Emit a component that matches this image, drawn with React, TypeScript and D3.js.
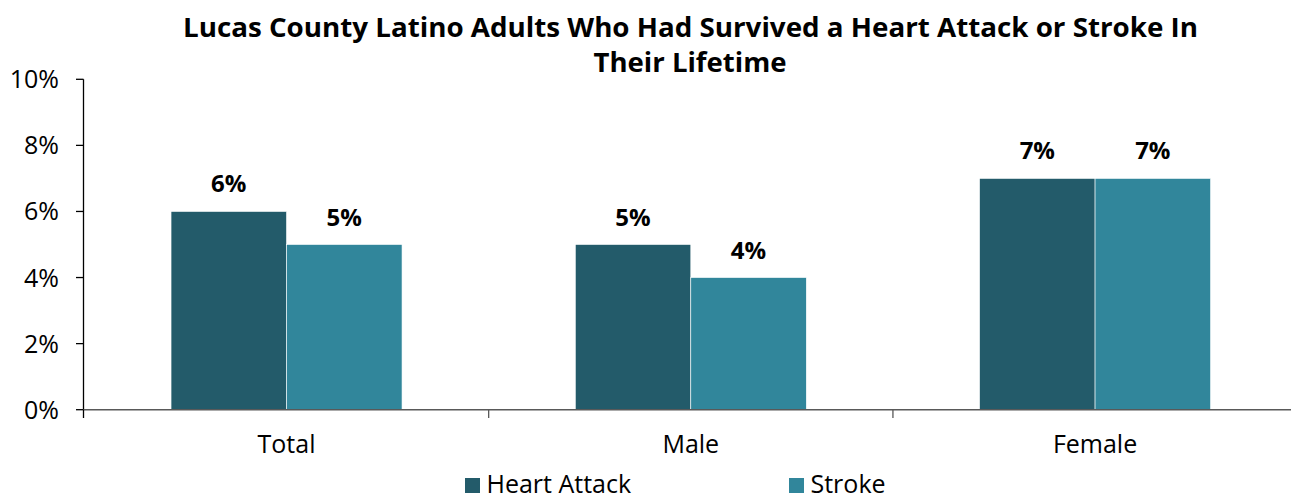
import React from "react";
import * as d3 from "d3";

const categories = ["Total", "Male", "Female"];
const seriesNames = ["Heart Attack", "Stroke"];
const heartAttack = [6, 5, 7];
const stroke = [5, 4, 7];
const yTicks = [0, 2, 4, 6, 8, 10];
const colors = ["#235B6A", "#31869B"];
const titleLines = [
  "Lucas County Latino Adults Who Had Survived a Heart Attack or Stroke In",
  "Their Lifetime",
];

const W = 1291;
const H = 495;
const FONT = "'Open Sans', 'Noto Sans', sans-serif";

export default function App() {
  const values = [heartAttack, stroke];
  const x = d3.scaleBand<string>().domain(categories).range([84.4, 1297.2]).paddingInner(0).paddingOuter(0);
  const groupW = 231;
  const xs = d3.scaleBand<string>().domain(seriesNames).range([0, groupW]);
  const y = d3.scaleLinear().domain([0, 10]).range([409.7, 79.3]);
  const axisX = 83.5;
  const y0 = y(0);
  const boundaries = [0, 1, 2, 3].map((i) => 84.4 + i * x.bandwidth());

  return (
    <svg width={W} height={H} style={{ position: "absolute", left: 0, top: 0, background: "#fff" }}>
      {/* title */}
      <text x={690.5} y={36.7} textAnchor="middle" fontFamily={FONT} fontWeight={700} fontSize={26} fill="#000"
        textLength={1015} lengthAdjust="spacingAndGlyphs">{titleLines[0]}</text>
      <text x={690} y={71.7} textAnchor="middle" fontFamily={FONT} fontWeight={700} fontSize={26} fill="#000"
        textLength={193} lengthAdjust="spacingAndGlyphs">{titleLines[1]}</text>

      {/* bars */}
      {categories.map((c, ci) =>
        seriesNames.map((s, si) => {
          const v = values[si][ci];
          const bx = (x(c) as number) + (x.bandwidth() - groupW) / 2 + (xs(s) as number);
          return (
            <g key={c + s}>
              <rect x={bx} y={y(v)} width={xs.bandwidth()} height={y0 - y(v)} fill={colors[si]} stroke="#fff" strokeWidth={0.6} />
              <text x={bx + xs.bandwidth() / 2} y={y(v) - 19} textAnchor="middle" fontFamily={FONT} fontWeight={700} fontSize={24} fill="#000">
                {v}%
              </text>
            </g>
          );
        })
      )}

      {/* y axis */}
      <line x1={axisX} x2={axisX} y1={y(10)} y2={y0} stroke="#000" strokeWidth={1.3} />
      {yTicks.map((t) => (
        <g key={t}>
          <line x1={76} x2={axisX} y1={y(t)} y2={y(t)} stroke="#000" strokeWidth={1.3} />
          <text x={59} y={y(t) + 9} textAnchor="end" fontFamily={FONT} fontSize={25} fill="#000">{t}%</text>
        </g>
      ))}

      {/* x axis */}
      <line x1={axisX} x2={W} y1={y0} y2={y0} stroke="#595959" strokeWidth={1.5} />
      {boundaries.map((b, i) => (
        <line key={i} x1={i === 0 ? axisX : b} x2={i === 0 ? axisX : b} y1={y0} y2={418} stroke={i === 0 ? "#000" : "#595959"} strokeWidth={1.3} />
      ))}
      {categories.map((c) => (
        <text key={c} x={(x(c) as number) + x.bandwidth() / 2} y={452.7} textAnchor="middle" fontFamily={FONT} fontSize={25} fill="#000">{c}</text>
      ))}

      {/* legend */}
      {seriesNames.map((s, i) => {
        const lx = [465, 789][i];
        return (
          <g key={s}>
            <rect x={lx} y={478} width={15} height={15} fill={colors[i]} />
            <text x={lx + 21.5} y={493} fontFamily={FONT} fontSize={25} fill="#000">{s}</text>
          </g>
        );
      })}
    </svg>
  );
}
